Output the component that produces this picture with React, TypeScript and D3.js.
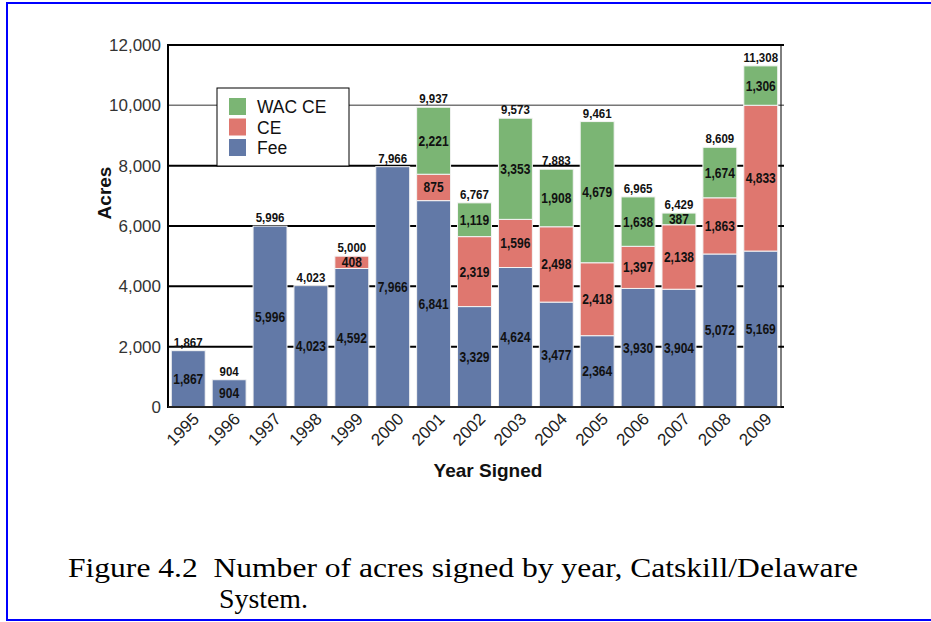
import React from "react";
import * as d3 from "d3";

const years = ["1995","1996","1997","1998","1999","2000","2001","2002","2003","2004","2005","2006","2007","2008","2009"];
const fee = [1867, 904, 5996, 4023, 4592, 7966, 6841, 3329, 4624, 3477, 2364, 3930, 3904, 5072, 5169];
const ce = [0, 0, 0, 0, 408, 0, 875, 2319, 1596, 2498, 2418, 1397, 2138, 1863, 4833];
const wacCe = [0, 0, 0, 0, 0, 0, 2221, 1119, 3353, 1908, 4679, 1638, 387, 1674, 1306];
const yTicks = [0, 2000, 4000, 6000, 8000, 10000, 12000];
const seriesNames = ["Fee", "CE", "WAC CE"];
const seriesColors = ["#6279A7", "#DF776F", "#7BB574"];

export default function App() {
  const W = 931, H = 622;
  const left = 168, right = 781, top = 45, bottom = 407;
  const x = d3.scaleBand<string>().domain(years).range([left, right]).paddingInner(0.17).paddingOuter(0.08);
  const y = d3.scaleLinear().domain([0, 12000]).range([bottom, top]);
  const fmt = d3.format(",");

  const rows = years.map((yr, i) => ({ year: yr, Fee: fee[i], CE: ce[i], "WAC CE": wacCe[i] }));
  const stack = d3.stack<any>().keys(seriesNames);
  const layers = stack(rows);
  const totals = years.map((_, i) => fee[i] + ce[i] + wacCe[i]);

  const sans = "'Liberation Sans', Arial, sans-serif";
  const serif = "'Liberation Serif', 'Times New Roman', serif";
  const legendItems = [
    { name: "WAC CE", color: seriesColors[2] },
    { name: "CE", color: seriesColors[1] },
    { name: "Fee", color: seriesColors[0] },
  ];

  return (
    <svg width={W} height={H} style={{ position: "absolute", left: 0, top: 0, background: "#fff" }}>
      <rect x={7} y={3} width={940} height={617} fill="#fff" stroke="#0000ff" strokeWidth={2} />
      {/* grid lines */}
      {yTicks.map((t) => (
        <line key={"g" + t} x1={left} x2={right + 3} y1={y(t)} y2={y(t)}
          stroke={t === 10000 ? "#777" : "#000"} strokeWidth={t === 10000 ? 1.5 : 2} />
      ))}
      {/* bars */}
      {layers.map((layer, li) => (
        <g key={"l" + li} fill={seriesColors[li]}>
          {layer.map((d, i) => {
            const h = y(d[0]) - y(d[1]);
            if (h <= 0) return null;
            return (
              <rect key={i} x={x(years[i])} y={y(d[1])} width={x.bandwidth()} height={h}
                stroke="#f4f4f4" strokeWidth={1} />
            );
          })}
        </g>
      ))}
      {/* axes */}
      <line x1={left} x2={left} y1={top - 1} y2={bottom + 1} stroke="#000" strokeWidth={2} />
      <line x1={right} x2={right} y1={top} y2={bottom} stroke="#000" strokeWidth={1} />
      <line x1={left} x2={right} y1={bottom} y2={bottom} stroke="#222" strokeWidth={2} />
      {/* segment labels */}
      {layers.map((layer, li) => (
        <g key={"t" + li}>
          {layer.map((d, i) => {
            const v = d[1] - d[0];
            if (v <= 0) return null;
            const cx = x(years[i])! + x.bandwidth() / 2;
            const cy = (y(d[0]) + y(d[1])) / 2 + 5;
            return (
              <text key={i} transform={`translate(${cx},${cy}) scale(0.86,1)`}
                textAnchor="middle" fontFamily={sans} fontWeight="bold" fontSize={14} fill="#111">
                {fmt(v)}
              </text>
            );
          })}
        </g>
      ))}
      {/* total labels */}
      {totals.map((t, i) => (
        <text key={"tt" + i} transform={`translate(${x(years[i])! + x.bandwidth() / 2},${y(t) - 4}) scale(0.92,1)`}
          textAnchor="middle" fontFamily={sans} fontWeight="bold" fontSize={12.5} fill="#111">
          {fmt(t)}
        </text>
      ))}
      {/* y tick labels */}
      {yTicks.map((t) => (
        <text key={"yl" + t} x={161} y={y(t) + 6} textAnchor="end" fontFamily={sans} fontSize={17} fill="#333">
          {fmt(t)}
        </text>
      ))}
      {/* x tick labels */}
      {years.map((yr) => {
        const cx = x(yr)! + x.bandwidth() / 2;
        return (
          <text key={"xl" + yr} transform={`translate(${cx + 12},${420}) rotate(-45)`} textAnchor="end"
            fontFamily={sans} fontSize={17} fill="#222">
            {yr}
          </text>
        );
      })}
      {/* axis titles */}
      <text transform={`translate(111,193) rotate(-90)`} textAnchor="middle" fontFamily={sans}
        fontWeight="bold" fontSize={19} fill="#111">Acres</text>
      <text x={488} y={477} textAnchor="middle" fontFamily={sans} fontWeight="bold" fontSize={19} fill="#111">
        Year Signed
      </text>
      {/* legend */}
      <rect x={217} y={88} width={132} height={78} fill="#fff" stroke="#000" strokeWidth={1} />
      {legendItems.map((it, i) => (
        <g key={"lg" + i}>
          <rect x={229} y={98 + i * 20.5} width={17} height={17} fill={it.color} />
          <text x={257} y={113 + i * 20.5} fontFamily={sans} fontSize={17.5} fill="#111">{it.name}</text>
        </g>
      ))}
      {/* caption */}
      <text x={68} y={577} fontFamily={serif} fontSize={28} fill="#000" style={{ whiteSpace: "pre" }}
        textLength={790} lengthAdjust="spacingAndGlyphs">
        {"Figure 4.2  Number of acres signed by year, Catskill/Delaware"}
      </text>
      <text x={219} y={608} fontFamily={serif} fontSize={28} fill="#000" textLength={89} lengthAdjust="spacingAndGlyphs">
        System.
      </text>
    </svg>
  );
}
